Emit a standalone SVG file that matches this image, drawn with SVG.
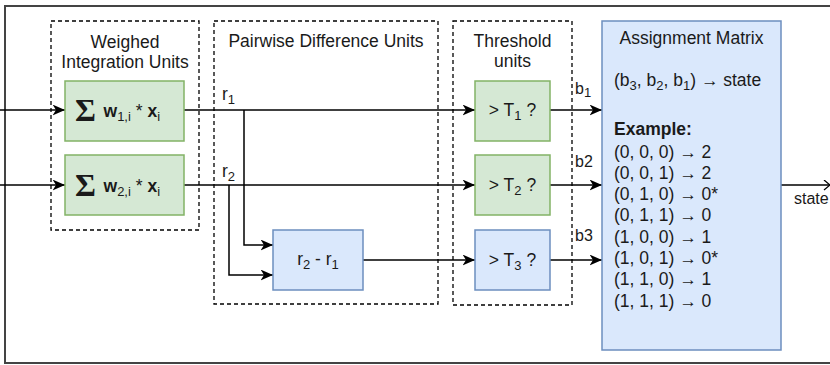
<svg xmlns="http://www.w3.org/2000/svg" width="830" height="365" viewBox="0 0 830 365">
<defs>
<marker id="arr" markerUnits="userSpaceOnUse" markerWidth="14" markerHeight="12" refX="12.5" refY="5.5" orient="auto" viewBox="0 0 14 12">
<path d="M0,0 L12.5,5.5 L0,11 L3.5,5.5 Z" fill="#000"/>
</marker>
<marker id="open" markerUnits="userSpaceOnUse" markerWidth="10" markerHeight="12" refX="7" refY="5.5" orient="auto" viewBox="0 0 10 12">
<path d="M1,0.5 L7,5.5 L1,10.5" fill="none" stroke="#000" stroke-width="1.3"/>
</marker>
<style>
text{font-family:"Liberation Sans",Arial,sans-serif;font-size:17.5px;fill:#1a1a1a}
.grp{fill:none;stroke:#000;stroke-width:1.3;stroke-dasharray:4 3}
.green{fill:#d5e8d4;stroke:#82b366;stroke-width:1.5}
.blue{fill:#dae8fc;stroke:#6c8ebf;stroke-width:1.5}
.ca{fill:none;stroke:#000;stroke-width:1.5;marker-end:url(#arr)}
.co{fill:none;stroke:#000;stroke-width:1.5;marker-end:url(#open)}
.mid{text-anchor:middle}
.b{font-weight:bold}
.sub{font-size:13px}
.sig{font-family:"Liberation Serif","Times New Roman",serif;font-size:32px;font-weight:bold}
.lbl{font-size:16px}
</style>
</defs>
<rect x="5" y="6" width="840" height="357" fill="#fff" stroke="#444" stroke-width="2"/>

<g id="group-integration">
<rect class="grp" x="51" y="21" width="148" height="209"/>
<text class="mid" x="125" y="47.5">Weighed</text>
<text class="mid" x="125" y="67.5">Integration Units</text>
</g>
<g id="group-pairwise">
<rect class="grp" x="214" y="21" width="224" height="283"/>
<text class="mid" x="326" y="47">Pairwise Difference Units</text>
</g>
<g id="group-threshold">
<rect class="grp" x="453" y="21" width="119" height="284"/>
<text class="mid" x="512.5" y="47">Threshold</text>
<text class="mid" x="512.5" y="67">units</text>
</g>

<g id="connectors">
<path class="ca" d="M0,110 L65,110"/>
<path class="ca" d="M0,185 L65,185"/>
<path class="ca" d="M184,110 L475,110"/>
<path class="ca" d="M184,185 L475,185"/>
<path class="ca" d="M244,110 L244,245 L273,245"/>
<path class="ca" d="M229,185 L229,275 L273,275"/>
<path class="ca" d="M363,260 L475,260"/>
<path class="ca" d="M550,110 L602,110"/>
<path class="ca" d="M550,185 L602,185"/>
<path class="ca" d="M550,260 L602,260"/>
<path class="co" d="M781,185 L830,185"/>
<text x="222" y="100">r<tspan class="sub" dy="4">1</tspan></text>
<text x="222" y="177">r<tspan class="sub" dy="4">2</tspan></text>
<text class="lbl" x="575" y="94">b<tspan class="sub" dy="3">1</tspan></text>
<text class="lbl" x="575" y="166.5">b2</text>
<text class="lbl" x="575" y="240.5">b3</text>
<text class="lbl" x="794" y="203.5">state</text>
</g>

<g id="node-w1">
<rect class="green" x="65" y="81" width="119" height="60"/>
<text class="sig" x="75" y="121">Σ</text>
<text x="103.5" y="117"><tspan class="b">w</tspan><tspan class="sub" dy="4">1,i</tspan><tspan dy="-4"> * </tspan><tspan class="b">x</tspan><tspan class="sub" dy="4">i</tspan></text>
</g>
<g id="node-w2">
<rect class="green" x="65" y="155" width="119" height="60"/>
<text class="sig" x="75" y="196">Σ</text>
<text x="103.5" y="192"><tspan class="b">w</tspan><tspan class="sub" dy="4">2,i</tspan><tspan dy="-4"> * </tspan><tspan class="b">x</tspan><tspan class="sub" dy="4">i</tspan></text>
</g>
<g id="node-diff">
<rect class="blue" x="273" y="230" width="90" height="60"/>
<text class="mid" x="318" y="265">r<tspan class="sub" dy="4">2</tspan><tspan dy="-4"> - r</tspan><tspan class="sub" dy="4">1</tspan></text>
</g>
<g id="node-t1">
<rect class="green" x="475" y="81" width="75" height="60"/>
<text class="mid" x="512.5" y="116">&gt; T<tspan class="sub" dy="4">1</tspan><tspan dy="-4"> ?</tspan></text>
</g>
<g id="node-t2">
<rect class="green" x="475" y="155" width="75" height="60"/>
<text class="mid" x="512.5" y="191">&gt; T<tspan class="sub" dy="4">2</tspan><tspan dy="-4"> ?</tspan></text>
</g>
<g id="node-t3">
<rect class="blue" x="475" y="230" width="75" height="60"/>
<text class="mid" x="512.5" y="266">&gt; T<tspan class="sub" dy="4">3</tspan><tspan dy="-4"> ?</tspan></text>
</g>
<g id="node-matrix">
<rect class="blue" x="602" y="21" width="179" height="329"/>
<text class="mid" x="691.5" y="43.5">Assignment Matrix</text>
<text x="614" y="85.5">(b<tspan class="sub" dy="4">3</tspan><tspan dy="-4">, b</tspan><tspan class="sub" dy="4">2</tspan><tspan dy="-4">, b</tspan><tspan class="sub" dy="4">1</tspan><tspan dy="-4">) → state</tspan></text>
<text class="b" x="614" y="134.5">Example:</text>
<text x="614" y="157.5">(0, 0, 0) → 2</text>
<text x="614" y="178.8">(0, 0, 1) → 2</text>
<text x="614" y="200.1">(0, 1, 0) → 0*</text>
<text x="614" y="221.4">(0, 1, 1) → 0</text>
<text x="614" y="242.7">(1, 0, 0) → 1</text>
<text x="614" y="264">(1, 0, 1) → 0*</text>
<text x="614" y="285.3">(1, 1, 0) → 1</text>
<text x="614" y="306.6">(1, 1, 1) → 0</text>
</g>
</svg>
